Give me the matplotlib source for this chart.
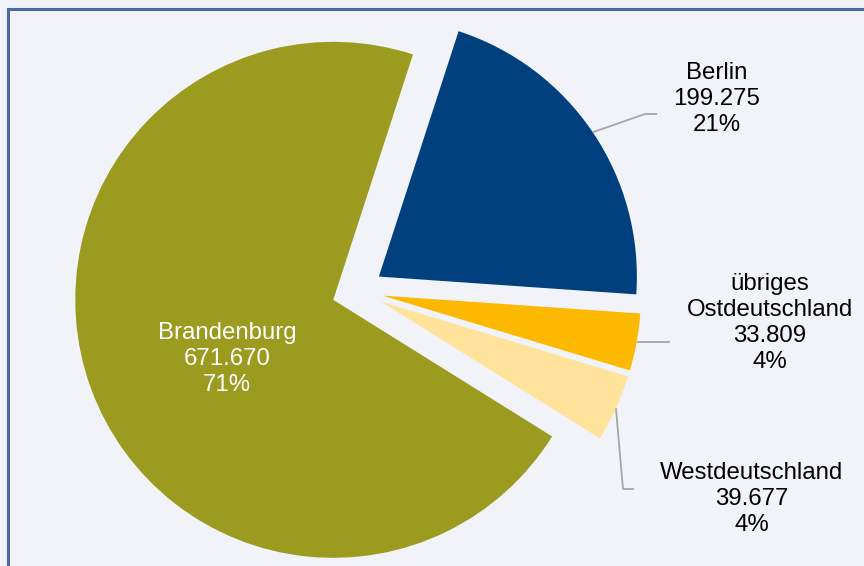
import numpy as np
import matplotlib
matplotlib.use("Agg")
import matplotlib.pyplot as plt
from matplotlib.patches import Rectangle

plt.rcParams['font.family'] = ['Liberation Sans', 'DejaVu Sans']

regions = ["Berlin", "übriges\nOstdeutschland", "Westdeutschland", "Brandenburg"]
values = [199275, 33809, 39677, 671670]
value_labels = ["199.275", "33.809", "39.677", "671.670"]
colors = ["#00407F", "#FDB900", "#FFE39A", "#9A9B1F"]

W, H = 864, 566
cx_px, cy_px, r_px = 357.5, 291, 258


def px(x, y):
    # pixel position -> data coordinates (pie radius = 1)
    return (x - cx_px) / r_px, (cy_px - y) / r_px


fig = plt.figure(figsize=(W / 100, H / 100), dpi=100)
fig.patch.set_facecolor("#F1F3F8")
ax = fig.add_axes([0, 0, 1, 1])
ax.set_facecolor("#F1F3F8")

wedges, _ = ax.pie(values, colors=colors, startangle=72, counterclock=False,
                   explode=[0.1] * 4, radius=1, wedgeprops=dict(linewidth=0))

x0, y0 = px(0, H)
x1, y1 = px(W, 0)
ax.set_xlim(x0, x1)
ax.set_ylim(y0, y1)
ax.set_aspect("equal")
ax.axis("off")

total = sum(values)
pcts = ["%d%%" % round(v / total * 100) for v in values]

# label centers and leader line points (pixels)
label_pos = [(717, 99), (770, 323), (752, 499), (227, 359)]
leaders = [[(645, 114), (657, 114)], [(670, 343)], [(623, 489), (634, 489)], None]

for w, name, vl, pc, pos, lead in zip(wedges, regions, value_labels, pcts, label_pos, leaders):
    col = "white" if name == "Brandenburg" else "black"
    ax.text(*px(*pos), f"{name}\n{vl}\n{pc}", ha="center", va="center",
            fontsize=17.3, color=col, linespacing=1.23)
    if lead is None:
        continue
    mid = np.deg2rad((w.theta1 + w.theta2) / 2)
    sx = w.center[0] + w.r * np.cos(mid)
    sy = w.center[1] + w.r * np.sin(mid)
    pts = [px(*p) for p in lead]
    if len(pts) == 1:
        pts = [(pts[0][0], sy)]
    xs = [sx] + [p[0] for p in pts]
    ys = [sy] + [p[1] for p in pts]
    ax.plot(xs, ys, color="#A6A6A6", lw=1.3, solid_capstyle="butt")

# chart border (only top and left visible in the crop)
fig.patches.append(Rectangle((8 / W, -0.1), 1.2, (H - 9) / H + 0.1,
                             transform=fig.transFigure, fill=False,
                             edgecolor="#4A6AA5", lw=2.2))

fig.savefig("out.png", dpi=100, facecolor=fig.get_facecolor())
